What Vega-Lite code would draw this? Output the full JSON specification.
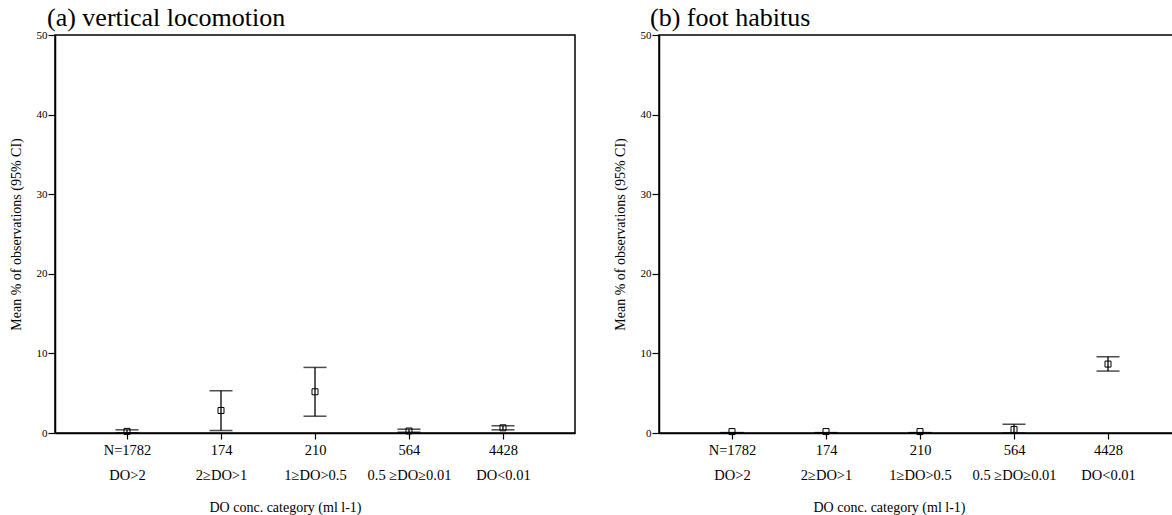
{
  "$schema": "https://vega.github.io/schema/vega-lite/v6.json",
  "background": "white",
  "padding": {"left": 8, "top": 4, "right": 0, "bottom": 0},
  "config": {
    "font": "Liberation Serif",
    "view": {"stroke": "black", "strokeWidth": 1.5},
    "concat": {"spacing": 36},
    "axis": {
      "grid": false,
      "domainColor": "black",
      "domainWidth": 1.5,
      "tickColor": "black",
      "tickWidth": 1.2,
      "labelColor": "black",
      "titleColor": "black",
      "labelFont": "Liberation Serif",
      "titleFont": "Liberation Serif",
      "titleFontWeight": "normal"
    },
    "title": {"font": "Liberation Serif", "fontWeight": "normal", "fontSize": 26, "color": "black", "anchor": "start", "frame": "group"}
  },
  "datasets": {
    "a": [
      {"cat": "N=1782|DO>2", "mean": 0.2, "lo": 0.02, "hi": 0.4},
      {"cat": "174|2≥DO>1", "mean": 2.83, "lo": 0.31, "hi": 5.31},
      {"cat": "210|1≥DO>0.5", "mean": 5.18, "lo": 2.11, "hi": 8.24},
      {"cat": "564|0.5 ≥DO≥0.01", "mean": 0.25, "lo": 0.1, "hi": 0.48},
      {"cat": "4428|DO<0.01", "mean": 0.65, "lo": 0.4, "hi": 0.91}
    ],
    "b": [
      {"cat": "N=1782|DO>2", "mean": 0.18, "lo": 0.0, "hi": 0.05},
      {"cat": "174|2≥DO>1", "mean": 0.18, "lo": 0.0, "hi": 0.05},
      {"cat": "210|1≥DO>0.5", "mean": 0.18, "lo": 0.0, "hi": 0.05},
      {"cat": "564|0.5 ≥DO≥0.01", "mean": 0.45, "lo": 0.0, "hi": 1.1},
      {"cat": "4428|DO<0.01", "mean": 8.66, "lo": 7.78, "hi": 9.58}
    ]
  },
  "hconcat": [
    {
      "width": 520,
      "height": 398,
      "title": {"text": "(a) vertical locomotion", "font": "Liberation Serif", "fontWeight": "normal", "fontSize": 26, "anchor": "start", "frame": "group", "dx": -8, "offset": -2},
      "data": {"name": "a"},
      "encoding": {
        "x": {
          "field": "cat", "type": "ordinal", "sort": null,
          "scale": {"type": "point", "padding": 0.766},
          "axis": {
            "labelExpr": "split(datum.value, '|')",
            "labelFont": "Liberation Serif",
            "labelAngle": 0, "labelFontSize": 14.5, "labelLineHeight": 25,
            "tickSize": 6, "labelPadding": 4.5,
            "title": "DO conc. category (ml l-1)", "titleFont": "Liberation Serif", "titleFontSize": 14,
            "titleX": 230, "titlePadding": 18
          }
        }
      },
      "layer": [
        {
          "mark": {"type": "rule", "color": "black", "strokeWidth": 1.3},
          "encoding": {
            "y": {
              "field": "lo", "type": "quantitative",
              "scale": {"domain": [0, 50]},
              "axis": {
                "values": [0, 10, 20, 30, 40, 50], "tickSize": 7, "labelFont": "Liberation Serif", "labelFontSize": 11, "labelPadding": 1,
                "title": "Mean % of observations (95% CI)", "titleFont": "Liberation Serif", "titleFontSize": 14, "titlePadding": 13
              }
            },
            "y2": {"field": "hi"}
          }
        },
        {
          "mark": {"type": "tick", "color": "black", "size": 23, "thickness": 1.5},
          "encoding": {"y": {"field": "lo", "type": "quantitative"}}
        },
        {
          "mark": {"type": "tick", "color": "black", "size": 23, "thickness": 1.5},
          "encoding": {"y": {"field": "hi", "type": "quantitative"}}
        },
        {
          "mark": {"type": "point", "shape": "square", "filled": false, "stroke": "black", "strokeWidth": 1, "size": 36, "opacity": 1},
          "encoding": {"y": {"field": "mean", "type": "quantitative"}}
        }
      ]
    },
    {
      "width": 514,
      "height": 398,
      "title": {"text": "(b) foot habitus", "font": "Liberation Serif", "fontWeight": "normal", "fontSize": 26, "anchor": "start", "frame": "group", "dx": -9, "offset": -2},
      "data": {"name": "b"},
      "encoding": {
        "x": {
          "field": "cat", "type": "ordinal", "sort": null,
          "scale": {"type": "point", "padding": 0.734, "align": 0.529},
          "axis": {
            "labelExpr": "split(datum.value, '|')",
            "labelFont": "Liberation Serif",
            "labelAngle": 0, "labelFontSize": 14.5, "labelLineHeight": 25,
            "tickSize": 6, "labelPadding": 4.5,
            "title": "DO conc. category (ml l-1)", "titleFont": "Liberation Serif", "titleFontSize": 14,
            "titleX": 230, "titlePadding": 18
          }
        }
      },
      "layer": [
        {
          "mark": {"type": "rule", "color": "black", "strokeWidth": 1.3},
          "encoding": {
            "y": {
              "field": "lo", "type": "quantitative",
              "scale": {"domain": [0, 50]},
              "axis": {
                "values": [0, 10, 20, 30, 40, 50], "tickSize": 7, "labelFont": "Liberation Serif", "labelFontSize": 11, "labelPadding": 1,
                "title": "Mean % of observations (95% CI)", "titleFont": "Liberation Serif", "titleFontSize": 14, "titlePadding": 13
              }
            },
            "y2": {"field": "hi"}
          }
        },
        {
          "mark": {"type": "tick", "color": "black", "size": 23, "thickness": 1.5},
          "encoding": {"y": {"field": "lo", "type": "quantitative"}}
        },
        {
          "mark": {"type": "tick", "color": "black", "size": 23, "thickness": 1.5},
          "encoding": {"y": {"field": "hi", "type": "quantitative"}}
        },
        {
          "mark": {"type": "point", "shape": "square", "filled": false, "stroke": "black", "strokeWidth": 1, "size": 36, "opacity": 1},
          "encoding": {"y": {"field": "mean", "type": "quantitative"}}
        }
      ]
    }
  ]
}
